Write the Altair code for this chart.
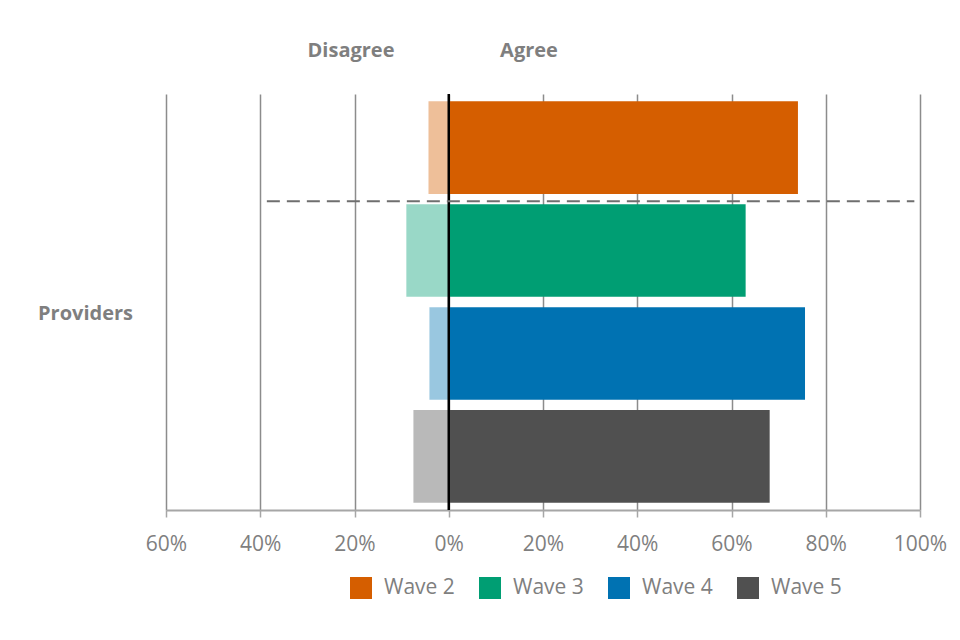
import altair as alt
import pandas as pd

waves = ["Wave 2", "Wave 3", "Wave 4", "Wave 5"]
agree = [74.1, 63.0, 75.6, 68.1]
disagree = [4.3, 9.0, 4.1, 7.5]
colors = ["#D55E00", "#009E73", "#0072B2", "#505050"]
tick_values = [-60, -40, -20, 0, 20, 40, 60, 80, 100]
header_labels = ["Disagree", "Agree"]
group_label = "Providers"
separator = {"wave": ["Wave 3"], "start": [-38.6], "end": [98.8]}

FONT = "Open Sans"
GREY = "#7f7f7f"

df = pd.DataFrame({
    "wave": waves,
    "agree": agree,
    "neg": [-d for d in disagree],
    "zero": [0] * len(waves),
})

xscale = alt.Scale(domain=[-60, 100], nice=False, zero=False)
yscale = alt.Scale(domain=waves, paddingInner=0.1, paddingOuter=0.07)
color_scale = alt.Scale(domain=waves, range=colors)

legend = alt.Legend(
    orient="none", legendX=184, legendY=483, direction="horizontal",
    title=None, symbolType="square", symbolSize=484, symbolStrokeWidth=0,
    symbolOpacity=1, labelFont=FONT, labelFontSize=21, labelColor=GREY,
    labelOffset=12, columnPadding=24, padding=0,
)

xaxis = alt.Axis(
    values=tick_values,
    labelExpr="abs(datum.value) + '%'",
    grid=True, gridColor="#8c8c8c", gridWidth=1.5,
    domainColor="#a6a6a6", domainWidth=2,
    tickColor="#a6a6a6", tickSize=7, tickWidth=1.5,
    labelColor=GREY, labelFontSize=21, labelFont=FONT, labelPadding=16,
    labelFlush=False, labelBound=False, labelOverlap=False,
    title=None,
)

base = alt.Chart(df)

agree_bars = base.mark_bar().encode(
    x=alt.X("zero:Q", scale=xscale, axis=xaxis),
    x2="agree:Q",
    y=alt.Y("wave:N", scale=yscale, sort=waves, axis=None),
    color=alt.Color("wave:N", scale=color_scale, legend=legend),
)

disagree_bars = base.mark_bar(opacity=0.4).encode(
    x=alt.X("neg:Q", scale=xscale, axis=xaxis),
    x2="zero:Q",
    y=alt.Y("wave:N", scale=yscale, sort=waves, axis=None),
    color=alt.Color("wave:N", scale=color_scale, legend=legend),
)

zero_rule = alt.Chart(pd.DataFrame({"z": [0]})).mark_rule(
    color="black", strokeWidth=2.5
).encode(x=alt.X("z:Q", scale=xscale))

sep_rule = alt.Chart(pd.DataFrame(separator)).mark_rule(
    color="#6f6f6f", strokeWidth=2, strokeDash=[13, 7], yOffset=-3
).encode(
    x=alt.X("start:Q", scale=xscale),
    x2="end:Q",
    y=alt.Y("wave:N", scale=yscale, sort=waves, bandPosition=0, axis=None),
)

def label(text, x, y, align="center", baseline="alphabetic"):
    return alt.Chart(pd.DataFrame({"t": [text]})).mark_text(
        font=FONT, fontSize=20, fontWeight="bold", color=GREY,
        align=align, baseline=baseline,
    ).encode(text="t:N", x=alt.value(x), y=alt.value(y))

disagree_lbl = label(header_labels[0], 185, -37)
agree_lbl = label(header_labels[1], 363, -37)
group_lbl = label(group_label, -33, 220, align="right", baseline="middle")

chart = alt.layer(
    agree_bars, disagree_bars, zero_rule, sep_rule,
    disagree_lbl, agree_lbl, group_lbl,
).properties(
    width=754, height=416,
    autosize=alt.AutoSizeParams(type="none"),
    padding={"left": 158, "top": 86, "right": 28, "bottom": 90},
).configure_view(stroke=None)

chart.save("out.html", embed_options={"renderer": "svg", "actions": False})
